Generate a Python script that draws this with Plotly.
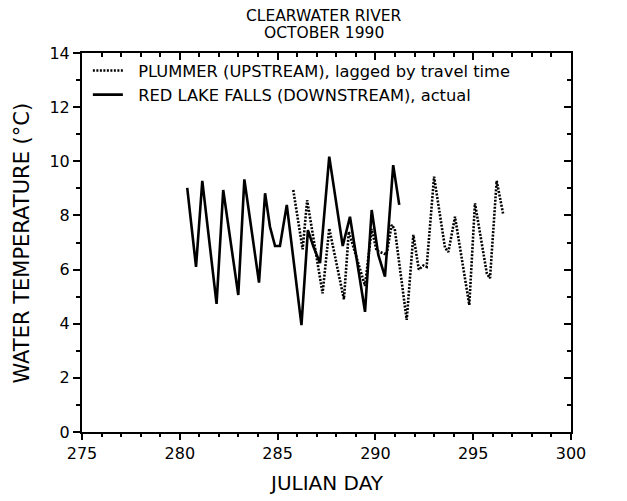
import plotly.graph_objects as go

# Red Lake Falls (downstream), actual water temperature
rlf_day = [280.38, 280.83, 281.15, 281.88, 282.22, 282.99, 283.30, 284.05, 284.36,
           284.61, 284.87, 285.12, 285.47, 286.22, 286.55, 286.83, 287.17, 287.64,
           288.33, 288.70, 289.47, 289.81, 290.15, 290.49, 290.91, 291.22]
rlf_temp = [9.02, 6.10, 9.28, 4.73, 8.94, 5.06, 9.33, 5.52, 8.82,
            7.58, 6.87, 6.87, 8.39, 3.95, 7.46, 6.85, 6.24, 10.17,
            6.87, 7.95, 4.44, 8.20, 6.54, 5.74, 9.86, 8.39]

# Plummer (upstream), lagged by travel time
plm_day = [285.80, 286.28, 286.51, 287.30, 287.64, 288.39, 288.64, 289.47, 289.81,
           290.06, 290.57, 290.83, 290.99, 291.60, 291.94, 292.22, 292.45, 292.62,
           293.00, 293.56, 293.73, 294.07, 294.80, 295.09, 295.70, 295.86, 296.20,
           296.54]
plm_temp = [8.94, 6.75, 8.56, 5.12, 7.52, 4.90, 7.40, 5.40, 7.50,
            6.70, 6.55, 7.65, 7.50, 4.14, 7.28, 6.00, 6.15, 6.10,
            9.43, 6.80, 6.65, 7.95, 4.69, 8.45, 5.85, 5.68, 9.28,
            8.02]

title_lines = ["CLEARWATER RIVER", "OCTOBER 1990"]
y_title = "WATER TEMPERATURE (°C)"
x_title = "JULIAN DAY"

FONT = "DejaVu Sans, Verdana, sans-serif"
PAD = "\u00a0\u00a0"

fig = go.Figure()
fig.add_trace(go.Scatter(
    x=plm_day, y=plm_temp, mode="lines",
    name=PAD + "PLUMMER (UPSTREAM), lagged by travel time",
    line=dict(color="black", width=2.6, dash="2px,1.5px"),
))
fig.add_trace(go.Scatter(
    x=rlf_day, y=rlf_temp, mode="lines",
    name=PAD + "RED LAKE FALLS (DOWNSTREAM), actual",
    line=dict(color="black", width=2.6),
))
# invisible trace bound to the top/right frame axes
fig.add_trace(go.Scatter(x=[275], y=[0], xaxis="x2", yaxis="y2",
                         mode="markers", marker=dict(opacity=0),
                         showlegend=False, hoverinfo="skip"))

# two-line heading above the frame
for text, ypos in zip(title_lines, [1.0976, 1.0528]):
    fig.add_annotation(text=text, xref="paper", yref="paper", x=0.495, y=ypos,
                       xanchor="center", yanchor="middle", showarrow=False,
                       font=dict(size=15.5))

# axis titles
fig.add_annotation(text=y_title, xref="paper", yref="paper", x=-0.1227, y=0.5,
                   xanchor="center", yanchor="middle", textangle=-90,
                   showarrow=False, font=dict(size=21))
fig.add_annotation(text=x_title, xref="paper", yref="paper", x=0.5, y=-0.135,
                   xanchor="center", yanchor="middle",
                   showarrow=False, font=dict(size=20))

frame = dict(showline=True, linecolor="black", linewidth=2,
             showgrid=False, zeroline=False, tickcolor="black", tickwidth=1.5)

fig.update_layout(
    width=627, height=501,
    margin=dict(l=82, r=56, t=53, b=69),
    paper_bgcolor="white", plot_bgcolor="white",
    font=dict(family=FONT, color="black", size=16),
    showlegend=True,
    legend=dict(x=0.012, y=0.999, xanchor="left", yanchor="top",
                bgcolor="rgba(0,0,0,0)", borderwidth=0,
                font=dict(size=16.3), tracegroupgap=0, itemwidth=30),
    xaxis=dict(range=[275, 300], tickmode="linear", tick0=275, dtick=5,
               ticks="outside", ticklen=6,
               minor=dict(dtick=1, ticks="outside", ticklen=3, tickcolor="black"),
               tickfont=dict(size=16), **frame),
    yaxis=dict(range=[0, 14], tickmode="linear", tick0=0, dtick=2,
               ticks="outside", ticklen=7,
               minor=dict(dtick=1, ticks="outside", ticklen=4, tickcolor="black"),
               tickfont=dict(size=16), **frame),
    xaxis2=dict(range=[275, 300], overlaying="x", side="top", anchor="y",
                tickmode="linear", tick0=275, dtick=5, showticklabels=False,
                ticks="inside", ticklen=7,
                minor=dict(dtick=1, ticks="inside", ticklen=4, tickcolor="black"),
                **frame),
    yaxis2=dict(range=[0, 14], overlaying="y", side="right", anchor="x",
                tickmode="linear", tick0=0, dtick=2, showticklabels=False,
                ticks="inside", ticklen=7,
                minor=dict(dtick=1, ticks="inside", ticklen=4, tickcolor="black"),
                **frame),
)

fig.write_html("out.html")
